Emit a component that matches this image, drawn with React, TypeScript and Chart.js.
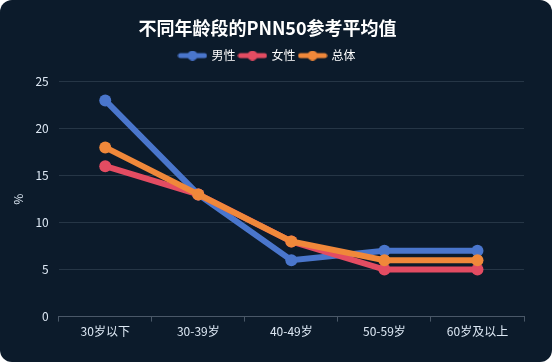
import React, { useEffect, useRef } from "react";
import { Chart, registerables } from "chart.js";

Chart.register(...registerables);

const categories = ["30岁以下", "30-39岁", "40-49岁", "50-59岁", "60岁及以上"];
const maleValues = [23, 13, 6, 7, 7];
const femaleValues = [16, 13, 8, 5, 5];
const totalValues = [18, 13, 8, 6, 6];
const seriesNames = ["男性", "女性", "总体"];
const seriesColors = ["#4a76cc", "#e34c62", "#f0883a"];

const FONT = "'Noto Sans CJK SC', 'Noto Sans', sans-serif";

function legendIcon(color: string): HTMLCanvasElement {
  const c = document.createElement("canvas");
  c.width = 30;
  c.height = 10;
  const ctx = c.getContext("2d")!;
  ctx.strokeStyle = color;
  ctx.lineWidth = 5;
  ctx.lineCap = "round";
  ctx.beginPath();
  ctx.moveTo(3, 5);
  ctx.lineTo(27, 5);
  ctx.stroke();
  ctx.fillStyle = color;
  ctx.beginPath();
  ctx.arc(15, 5, 5, 0, Math.PI * 2);
  ctx.fill();
  return c;
}

const legendMargin = {
  id: "legendMargin",
  beforeInit(chart: any) {
    const orig = chart.legend.fit;
    chart.legend.fit = function () {
      orig.call(this);
      this.height += 10;
    };
  },
};

export default function App() {
  const ref = useRef<HTMLCanvasElement>(null);
  useEffect(() => {
    document.body.style.margin = "0";
    const icons = seriesColors.map(legendIcon);
    const values = [maleValues, femaleValues, totalValues];
    const orders = [2, 1, 0];
    const chart = new Chart(ref.current!, {
      type: "line",
      plugins: [legendMargin],
      data: {
        labels: categories,
        datasets: seriesNames.map((name, i) => ({
          label: name,
          data: values[i],
          borderColor: seriesColors[i],
          backgroundColor: seriesColors[i],
          pointBackgroundColor: seriesColors[i],
          pointBorderColor: seriesColors[i],
          pointBorderWidth: 0,
          borderWidth: 6,
          pointRadius: 6,
          pointHoverRadius: 6,
          tension: 0,
          order: orders[i],
        })),
      },
      options: {
        animation: false,
        responsive: true,
        maintainAspectRatio: false,
        layout: { padding: { left: 11, right: 28, top: 10, bottom: 20 } },
        plugins: {
          title: {
            display: true,
            text: "不同年龄段的PNN50参考平均值",
            color: "#ffffff",
            font: { family: FONT, size: 18, weight: "bold" },
            padding: { top: 7, bottom: 7 },
          },
          legend: {
            display: true,
            labels: {
              color: "#ffffff",
              font: { family: FONT, size: 12 },
              usePointStyle: true,
              pointStyleWidth: 26,
              boxHeight: 10,
              padding: 4,
              generateLabels: () =>
                seriesNames.map((name, i) => ({
                  text: name,
                  fillStyle: seriesColors[i],
                  strokeStyle: seriesColors[i],
                  fontColor: "#ffffff",
                  pointStyle: icons[i],
                  lineWidth: 0,
                  hidden: false,
                  datasetIndex: i,
                })),
            },
          },
          tooltip: { enabled: false },
        },
        scales: {
          x: {
            offset: true,
            grid: {
              display: true,
              drawOnChartArea: false,
              drawTicks: true,
              tickLength: 5,
              color: "#4a5868",
              offset: true,
            },
            border: { display: true, color: "#4a5868" },
            ticks: { color: "#dde8f4", font: { family: FONT, size: 12 }, padding: 3 },
          },
          y: {
            min: 0,
            max: 25,
            ticks: { stepSize: 5, color: "#dde8f4", font: { family: FONT, size: 12 }, padding: 10 },
            grid: { color: "#263646", drawTicks: false },
            border: { display: false },
            title: {
              display: true,
              text: "%",
              color: "#dde8f4",
              font: { family: FONT, size: 12 },
              padding: { top: 0, bottom: 0 },
            },
          },
        },
      },
    });
    return () => chart.destroy();
  }, []);
  return (
    <div
      style={{
        position: "absolute",
        left: 0,
        top: 0,
        width: 552,
        height: 362,
        borderRadius: 12,
        overflow: "hidden",
        background: "#0c1b2b",
      }}
    >
      <canvas ref={ref} />
    </div>
  );
}
